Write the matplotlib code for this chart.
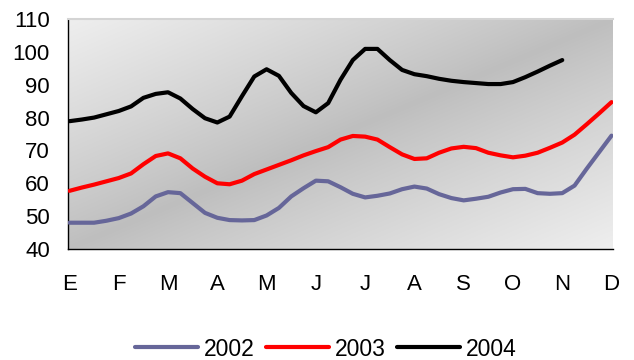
import numpy as np
import matplotlib
matplotlib.use("Agg")
import matplotlib.pyplot as plt

plt.rcParams['font.family'] = ['Liberation Sans', 'DejaVu Sans']

months = ["E", "F", "M", "A", "M", "J", "J", "A", "S", "O", "N", "D"]
years = ["2002", "2003", "2004"]
colors = ["#666699", "#ff0000", "#000000"]

# weekly-ish readings (four per month), January to December
serie_2002 = [48.0, 48.0, 48.0, 48.6, 49.4, 50.8, 53.0, 56.0, 57.3, 57.0, 54.0, 51.0,
              49.5, 48.8, 48.7, 48.8, 50.2, 52.5, 56.0, 58.5, 60.8, 60.6, 58.8, 56.8,
              55.7, 56.2, 56.9, 58.2, 59.0, 58.4, 56.7, 55.5, 54.8, 55.3, 55.9, 57.2,
              58.2, 58.3, 57.0, 56.8, 57.0, 59.3, 64.5, 69.5, 74.5]
serie_2003 = [57.7, 58.7, 59.6, 60.6, 61.6, 63.0, 65.8, 68.3, 69.1, 67.6, 64.5, 62.0,
              60.0, 59.7, 60.8, 62.8, 64.2, 65.6, 67.0, 68.5, 69.8, 71.0, 73.3, 74.4,
              74.2, 73.3, 71.0, 68.8, 67.4, 67.6, 69.3, 70.6, 71.1, 70.7, 69.3, 68.5,
              67.9, 68.4, 69.3, 70.8, 72.4, 74.8, 78.0, 81.3, 84.7]
serie_2004 = [78.9, 79.4, 80.0, 81.0, 82.0, 83.4, 86.0, 87.2, 87.7, 85.8, 82.6, 79.8,
              78.5, 80.3, 86.5, 92.5, 94.7, 92.7, 87.5, 83.5, 81.6, 84.4, 91.5, 97.5,
              100.9, 100.9, 97.5, 94.5, 93.2, 92.6, 91.8, 91.2, 90.8, 90.5, 90.2, 90.2,
              90.8, 92.3, 94.0, 95.8, 97.5]
series = [serie_2002, serie_2003, serie_2004]
steps_per_month = 4

fig = plt.figure(figsize=(6.34, 3.60), dpi=100)
ax = fig.add_axes([68 / 634, 1 - 249 / 360, (613 - 68) / 634, (249 - 19) / 360])

# diagonal wall gradient: light corners, darker band across the middle
nx, ny = 400, 200
u = np.linspace(0, 1, nx)[None, :]
v = np.linspace(0, 1, ny)[:, None]
t = (u + v) / 2
light, dark = 0.935, 0.745
L = dark + (light - dark) * np.abs(2 * t - 1) ** 0.9
img = np.dstack([L, L, L])
ax.imshow(img, extent=[0, 1, 0, 1], transform=ax.transAxes, aspect="auto",
          zorder=0, interpolation="bilinear")

for name, vals, c in zip(years, series, colors):
    x = np.arange(len(vals)) / steps_per_month
    ax.plot(x, vals, color=c, lw=3.0, label=name, solid_joinstyle="round",
            solid_capstyle="round", zorder=3)

ax.set_xlim(-0.03, 11.03)
ax.set_ylim(40, 110)
ax.set_yticks(range(40, 111, 10))
ax.set_xticks(range(12))
ax.set_xticklabels(months)
ax.tick_params(axis="both", length=0, labelsize=16, colors="black")
ax.tick_params(axis="x", pad=18)
ax.tick_params(axis="y", pad=13)

for side in ["left", "bottom"]:
    ax.spines[side].set_color("black")
    ax.spines[side].set_linewidth(1.0)
ax.spines["right"].set_visible(False)
ax.spines["top"].set_color("#d4d4d4")
ax.spines["top"].set_linewidth(1.5)

fig.legend(loc="center", bbox_to_anchor=(326 / 634, 1 - 349 / 360), ncol=3,
           frameon=False, fontsize=16.5, handlelength=2.75, handletextpad=0.25,
           columnspacing=0.5, borderaxespad=0)

fig.savefig("out.png", dpi=100)
